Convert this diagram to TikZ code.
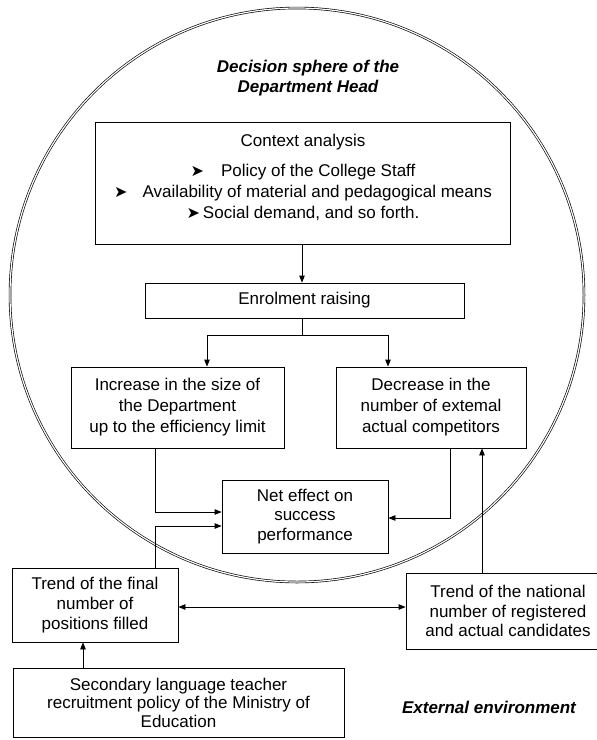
\documentclass[tikz,border=0pt]{standalone}
\usepackage{fontspec}
\setmainfont{Liberation Sans}
\newfontfamily\dvfont{DejaVu Sans}
\usetikzlibrary{arrows.meta}
\newcommand{\arrowbullet}{{\dvfont\fontsize{16}{16}\selectfont ➤}}
\begin{document}
\begin{tikzpicture}[x=1pt,y=-1pt,
  box/.style={draw, line width=0.8pt, fill=white, inner sep=0pt, align=center, font=\fontsize{17}{21}\selectfont},
  arr/.style={line width=0.8pt, -{Triangle[length=7pt,width=5.5pt]}},
  arrtwo/.style={line width=0.8pt, {Triangle[length=7pt,width=5.5pt]}-{Triangle[length=7pt,width=5.5pt]}},
  conn/.style={line width=0.8pt},
  heading/.style={font=\fontsize{17}{20}\selectfont\bfseries\itshape, align=center, inner sep=0pt}
]
\useasboundingbox (0,0) rectangle (597,740);
\draw[line width=0.65pt, double, double distance=1.2pt] (297,295) circle [radius=287pt];

\node[heading] (title) at (308,78) {Decision sphere of the\\Department Head};

\node[box, minimum width=415pt, minimum height=122pt] (ctx) at (302.5,183) {};
\node[align=center, inner sep=0pt, anchor=north, font=\fontsize{17}{21}\selectfont] (ctxtext) at (303,133.5)
  {Context analysis\\[9pt]
   \arrowbullet\hspace{17pt}Policy of the College Staff\\
   \arrowbullet\hspace{15pt}Availability of material and pedagogical means\\
   \arrowbullet\hspace{3pt}Social demand, and so forth.};

\node[box, minimum width=319pt, minimum height=35pt] (enr) at (304.5,300.5) {Enrolment raising};
\node[box, minimum width=213pt, minimum height=81pt] (inc) at (177.5,407.5) {Increase in the size of\\the Department\\up to the efficiency limit};
\node[box, minimum width=190pt, minimum height=81pt] (dec) at (431,407.5) {Decrease in the\\number of extemal\\actual competitors};
\node[box, minimum width=166pt, minimum height=73pt, font=\fontsize{17}{19.5}\selectfont] (net) at (305,516.5) {Net effect on\\success\\performance};
\node[box, minimum width=166pt, minimum height=74pt, font=\fontsize{17}{20}\selectfont] (tl) at (95,605) {Trend of the final\\number of\\positions filled};
\node[box, minimum width=204pt, minimum height=76pt, font=\fontsize{17}{19.5}\selectfont] (tr) at (508,611) {Trend of the national\\number of registered\\and actual candidates};
\node[box, minimum width=331pt, minimum height=69pt, font=\fontsize{17}{18.5}\selectfont] (bot) at (178.5,702.5) {Secondary language teacher\\recruitment policy of the Ministry of\\Education};
\node[heading] (ext) at (489,707) {External environment};

\coordinate (xm) at (302,0);
\coordinate (bj) at (302,335);
\coordinate (bl) at (207,335);
\coordinate (brt) at (388,335);
\coordinate (lx) at (155,0);
\coordinate (rx) at (450,0);
\coordinate (ux) at (482,0);
\coordinate (hy) at (0,607);
\coordinate (bx) at (83,0);

\draw[arr] (ctx.south -| xm) -- (enr.north -| xm);
\draw[arr] (enr.south -| xm) -- (bj) -| (inc.north -| bl);
\draw[arr] (enr.south -| xm) -- (bj) -| (dec.north -| brt);
\draw[arr] (inc.south -| lx) |- ([yshift=4.5pt]net.west);
\draw[arr] (tl.north -| lx) |- ([yshift=-9.5pt]net.west);
\draw[arr] (dec.south -| rx) |- ([yshift=-1.5pt]net.east);
\draw[arr] (tr.north -| ux) -- (dec.south -| ux);
\draw[arrtwo] (tl.east |- hy) -- (tr.west |- hy);
\draw[arr] (bot.north -| bx) -- (tl.south -| bx);
\end{tikzpicture}
\end{document}
